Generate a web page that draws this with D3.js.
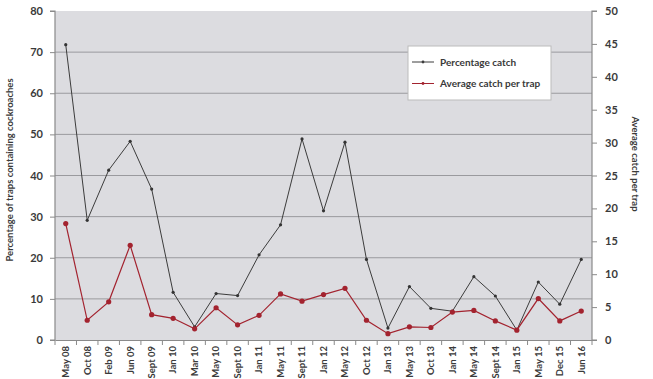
<!DOCTYPE html>
<html><head><meta charset="utf-8">
<script src="https://cdn.jsdelivr.net/npm/d3@7/dist/d3.min.js"></script>
<style>
body{margin:0;background:#fff;}
text{font-family:Lato,"Noto Sans",sans-serif;font-weight:bold;fill:#3a3a3a;}
</style></head>
<body><svg id="c" width="653" height="379"></svg>
<script>
const categories = ["May 08","Oct 08","Feb 09","Jun 09","Sept 09","Jan 10","Mar 10","May 10","Sept 10","Jan 11","May 11","Sept 11","Jan 12","May 12","Oct 12","Jan 13","May 13","Oct 13","Jan 14","May 14","Sept 14","Jan 15","May 15","Dec 15","Jun 16"];
const percentageCatch = [71.8,29.1,41.3,48.3,36.7,11.6,3.2,11.3,10.8,20.7,28.0,48.9,31.4,48.1,19.6,2.9,13.0,7.7,7.0,15.4,10.7,2.4,14.1,8.7,19.6];
const avgCatch = [17.7,3.0,5.8,14.4,3.85,3.3,1.7,4.9,2.3,3.75,7.0,5.9,6.9,7.85,3.0,0.96,2.0,1.9,4.25,4.5,2.9,1.5,6.3,2.9,4.4];
const leftTicks = [0,10,20,30,40,50,60,70,80];
const rightTicks = [0,5,10,15,20,25,30,35,40,45,50];
const seriesNames = ["Percentage catch","Average catch per trap"];

const svg = d3.select("#c");
const L=55,R=592,T=11,B=340;
const x = d3.scaleBand().domain(categories).range([L,R]);
const yL = d3.scaleLinear().domain([0,80]).range([B,T]);
const yR = d3.scaleLinear().domain([0,50]).range([B,T]);

svg.append("rect").attr("x",L).attr("y",T).attr("width",R-L).attr("height",B-T).attr("fill","#dcdce0");
svg.append("g").selectAll("line").data(leftTicks.slice(1,-1)).join("line")
  .attr("x1",L).attr("x2",R).attr("y1",d=>yL(d)).attr("y2",d=>yL(d)).attr("stroke","#9a9a9e").attr("stroke-width",1);

// axes
const gl = svg.append("g").attr("transform",`translate(${L},0)`).call(d3.axisLeft(yL).tickValues(leftTicks).tickSize(5).tickPadding(7));
const gr = svg.append("g").attr("transform",`translate(${R},0)`).call(d3.axisRight(yR).tickValues(rightTicks).tickSize(5).tickPadding(8));
const gb = svg.append("g").attr("transform",`translate(0,${B})`).call(d3.axisBottom(x).tickSize(0).tickPadding(0));
[gl,gr,gb].forEach(g=>{g.select(".domain").attr("stroke","#8a8a8a").attr("stroke-width",1.2);g.selectAll(".tick line").attr("stroke","#8a8a8a");g.selectAll("text").style("font-size","11px").attr("fill","#3a3a3a");});
gl.select(".domain").attr("d",`M-5,${T}H0V${B}H-5`);
gr.select(".domain").attr("d",`M5,${T}H0V${B}H5`);
// bottom boundary ticks
svg.append("g").selectAll("line").data(d3.range(categories.length+1)).join("line")
  .attr("x1",i=>L+i*x.step()).attr("x2",i=>L+i*x.step()).attr("y1",B).attr("y2",B+5).attr("stroke","#8a8a8a");
gb.selectAll(".tick text").attr("transform","rotate(-90)").attr("text-anchor","end").attr("dy","0.35em").attr("x",-6).attr("y",0).style("font-size","9.5px");

// axis titles
svg.append("text").attr("transform","translate(13,170) rotate(-90)").attr("text-anchor","middle").style("font-size","9.5px").text("Percentage of traps containing cockroaches");
svg.append("text").attr("transform","translate(632,164) rotate(90)").attr("text-anchor","middle").style("font-size","9.5px").text("Average catch per trap");

// lines
const cx = d=>x(d)+x.bandwidth()/2;
const line1 = d3.line().x((d,i)=>cx(categories[i])).y(d=>yL(d));
const line2 = d3.line().x((d,i)=>cx(categories[i])).y(d=>yR(d));
svg.append("path").attr("d",line1(percentageCatch)).attr("fill","none").attr("stroke","#3c3c3c").attr("stroke-width",1);
svg.append("g").selectAll("circle").data(percentageCatch).join("circle").attr("cx",(d,i)=>cx(categories[i])).attr("cy",d=>yL(d)).attr("r",1.6).attr("fill","#333");
svg.append("path").attr("d",line2(avgCatch)).attr("fill","none").attr("stroke","#a3232f").attr("stroke-width",1.2);
svg.append("g").selectAll("circle").data(avgCatch).join("circle").attr("cx",(d,i)=>cx(categories[i])).attr("cy",d=>yR(d)).attr("r",2.6).attr("fill","#a3232f");

// legend
const lg = svg.append("g");
lg.append("rect").attr("x",408).attr("y",46).attr("width",143).attr("height",54).attr("fill","#fff").attr("stroke","#bbb");
const lc = ["#3c3c3c","#a3232f"];
seriesNames.forEach((n,i)=>{
  const yy = 62+i*21.5;
  lg.append("line").attr("x1",412).attr("x2",434).attr("y1",yy).attr("y2",yy).attr("stroke",lc[i]).attr("stroke-width",1);
  lg.append("circle").attr("cx",423).attr("cy",yy).attr("r",1.4).attr("fill",lc[i]);
  lg.append("text").attr("x",440).attr("y",yy).attr("dy","0.35em").style("font-size","10px").text(n);
});
</script></body></html>
